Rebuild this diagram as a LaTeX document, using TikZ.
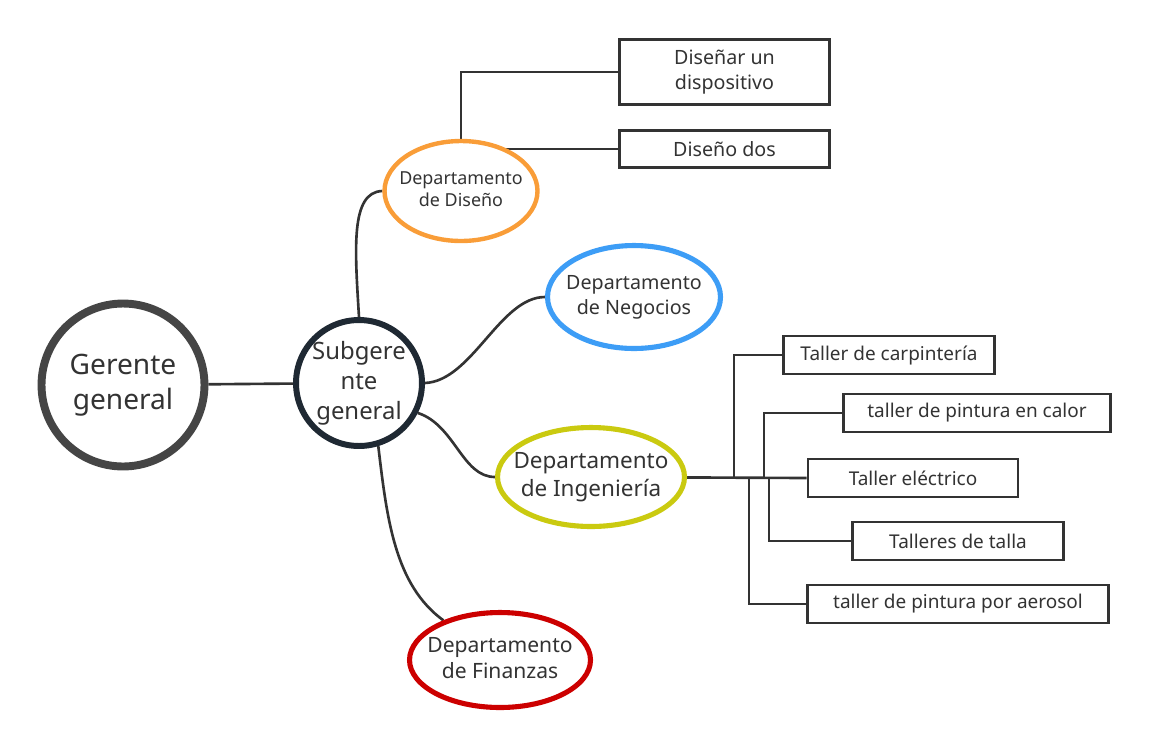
\documentclass[tikz,border=0pt]{standalone}
\usepackage{fontspec}
\setmainfont{Noto Sans}
\usetikzlibrary{shapes.geometric,backgrounds}

\definecolor{inkgray}{HTML}{333333}
\definecolor{gerborder}{HTML}{454545}
\definecolor{subborder}{HTML}{1F2933}
\definecolor{disorange}{HTML}{F99D38}
\definecolor{negblue}{HTML}{3D9DF6}
\definecolor{ingyellow}{HTML}{CACA10}
\definecolor{finred}{HTML}{CC0000}

% text that does not widen its ellipse
\newcommand{\deptlabel}[1]{\makebox[0pt]{\begin{tabular}{@{}c@{}}#1\end{tabular}}}

\tikzset{
  dept/.style={ellipse, draw, fill=white, line width=2.9pt, inner sep=0pt,
    text=inkgray},
  taskbox/.style={rectangle, draw=inkgray, fill=white, line width=1.6pt,
    inner sep=0pt, minimum height=0.76cm, align=center, text=inkgray,
    font=\fontsize{10.8pt}{13pt}\selectfont},
  link/.style={draw=inkgray, line width=1.5pt}
}

\begin{document}
\begin{tikzpicture}[x=0.02cm, y=-0.02cm]
    \useasboundingbox (0,0) rectangle (1149,748);
    % central nodes
    \node[circle, draw=gerborder, fill=white, line width=4.5pt, minimum size=3.26cm,
      inner sep=0pt, align=center, text=inkgray,
      font=\fontsize{16pt}{20pt}\selectfont] (ger) at (123,385) {Gerente\\general};
    \node[circle, draw=subborder, fill=white, line width=3.4pt, minimum size=2.52cm,
      inner sep=0pt, align=center, text=inkgray,
      font=\fontsize{13.6pt}{17pt}\selectfont] (sub) at (359,383) {Subgere\\nte\\general};
    % departments
    \node[dept, draw=disorange, line width=2.5pt, minimum width=3.06cm, minimum height=2.0cm,
      font=\fontsize{10.2pt}{13pt}\selectfont] (dis) at (461,191) {\deptlabel{Departamento\\de Diseño}};
    \node[dept, draw=negblue, minimum width=3.46cm, minimum height=2.06cm,
      font=\fontsize{11.2pt}{14pt}\selectfont] (neg) at (634,297) {\deptlabel{Departamento\\de Negocios}};
    \node[dept, draw=ingyellow, minimum width=3.74cm, minimum height=1.98cm,
      font=\fontsize{12.8pt}{15.5pt}\selectfont] (ing) at (591,477) {\deptlabel{Departamento\\de Ingeniería}};
    \node[dept, draw=finred, minimum width=3.62cm, minimum height=1.9cm,
      font=\fontsize{12pt}{15pt}\selectfont] (fin) at (500,660) {\deptlabel{Departamento\\de Finanzas}};
    % design tasks
    \node[taskbox, minimum width=4.2cm, minimum height=1.3cm,
      font=\fontsize{11.2pt}{14.5pt}\selectfont] (dev) at (724.5,72) {Diseñar un\\dispositivo};
    \node[taskbox, minimum width=4.2cm, minimum height=0.74cm,
      font=\fontsize{11.2pt}{14pt}\selectfont] (dos) at (724.5,149) {Diseño dos};
    % workshops
    \node[taskbox, minimum width=4.22cm] (carp) at (889,355) {Taller de carpintería};
    \node[taskbox, minimum width=5.34cm] (calor) at (977,413) {taller de pintura en calor};
    \node[taskbox, minimum width=4.2cm] (elec) at (913,478) {Taller eléctrico};
    \node[taskbox, minimum width=4.22cm] (talla) at (958,541) {Talleres de talla};
    \node[taskbox, minimum width=6.02cm] (aero) at (958,604) {taller de pintura por aerosol};
    % junctions on the trunk
    \coordinate (jcarp) at (734,477);
    \coordinate (jcalor) at (764,477);
    \coordinate (jtalla) at (769,477);
    \coordinate (jaero) at (749,477);

    \begin{scope}[on background layer]
      \draw[link] (ger) -- (sub);
      \draw[link] (sub.north) .. controls (355,250) and (350,192) .. (dis.west);
      \draw[link] (sub.east) .. controls (472,381) and (500,297) .. (neg.west);
      \draw[link] (sub.-27) .. controls (455,425) and (462,477) .. (ing.west);
      \draw[link] (sub.-73) .. controls (387,520) and (395,585) .. (fin.145);
      \draw[link] (dis.north) |- (dev.west);
      \draw[link] (dis.center |- dos.west) -- (dos.west);
      \draw[link] (ing.center) -- (elec.west);
      \draw[link] (jcarp) |- (carp.west);
      \draw[link] (jcalor) |- (calor.west);
      \draw[link] (jtalla) |- (talla.west);
      \draw[link] (jaero) |- (aero.west);
    \end{scope}
\end{tikzpicture}
\end{document}
